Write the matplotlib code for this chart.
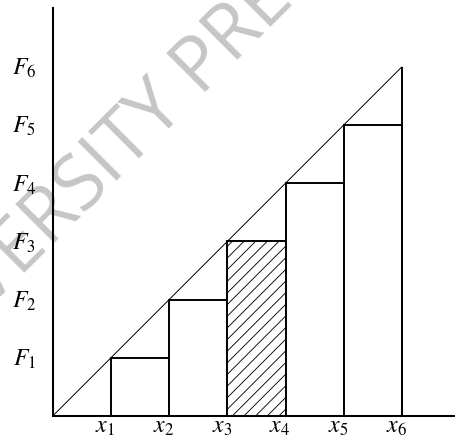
import matplotlib
matplotlib.use("Agg")
import matplotlib.pyplot as plt
import numpy as np

# ---- data ----
x_positions = [1, 2, 3, 4, 5, 6]
F_levels = [1, 2, 3, 4, 5, 6]
x_labels = [r"$x_{1}$", r"$x_{2}$", r"$x_{3}$", r"$x_{4}$", r"$x_{5}$", r"$x_{6}$"]
F_labels = [r"$F_{1}$", r"$F_{2}$", r"$F_{3}$", r"$F_{4}$", r"$F_{5}$", r"$F_{6}$"]
hatched_index = 2  # bar from x3 to x4
watermark = "OXFORD UNIVERSITY PRESS"

plt.rcParams["mathtext.fontset"] = "stix"

DPI = 70
W, H = 455, 439
fig = plt.figure(figsize=(W / DPI, H / DPI), dpi=DPI)
fig.patch.set_facecolor("white")

# axes geometry (pixels)
ox, oy = 52.7, 416.0
unit = 58.2
top_px = 8.0
ax = fig.add_axes([ox / W, (H - oy) / H, (W - ox) / W, (oy - top_px) / H])
ax.set_xlim(0, (W - ox) / unit)
ax.set_ylim(0, (oy - top_px) / unit)
ax.patch.set_visible(False)

for s in ["top", "right"]:
    ax.spines[s].set_visible(False)
for s in ["left", "bottom"]:
    ax.spines[s].set_linewidth(2.1)
    ax.spines[s].set_color("black")
ax.set_xticks([])
ax.set_yticks([])

# ---- watermark (faint, behind everything) ----
ang = 45
wm_color = "#c6c6c6"
wm_size = 78
wm_font = "Open Sans"
d = np.array([np.cos(np.radians(ang)), -np.sin(np.radians(ang))])
renderer = fig.canvas.get_renderer()
prefix = watermark[: watermark.index("PRESS")]
tmp = fig.text(0, 0, prefix.rstrip() + " P", fontsize=wm_size, family=wm_font)
w_full = tmp.get_window_extent(renderer).width
tmp.set_text("P")
w_p = tmp.get_window_extent(renderer).width
tmp.remove()
p_anchor = np.array([201.0, 97.0])  # left-baseline of the "P" (pixels from top-left)
start = p_anchor - (w_full - w_p) * d
fig.text(start[0] / W, 1 - start[1] / H, watermark, rotation=ang,
         rotation_mode="anchor", ha="left", va="baseline", fontsize=wm_size,
         family=wm_font, color=wm_color, zorder=-5)

# ---- bars (step function under the diagonal) ----
lefts = x_positions[:-1]
widths = np.diff(x_positions)
heights = F_levels[:-1]
bars = ax.bar(lefts, heights, width=widths, align="edge", facecolor="white",
              edgecolor="black", linewidth=2.0, zorder=2)

# diagonal hatching on the highlighted bar
hb = bars[hatched_index]
bx, bw, bh = hb.get_x(), hb.get_width(), hb.get_height()
step = 0.2
for c in np.arange(0.115 - 6 * step, bh + step, step):
    xs = np.array([bx - 0.5, bx + bw + 0.5])
    ln, = ax.plot(xs, (xs - bx) + c, color="black", linewidth=0.9, zorder=2.5)
    ln.set_clip_path(hb)

# vertical at x6 up to F6 and the diagonal
ax.vlines(x_positions[-1], 0, F_levels[-1], color="black", linewidth=2.0, zorder=3)
ax.plot([0, x_positions[-1]], [0, F_levels[-1]], color="black", linewidth=1.0,
        zorder=4, solid_capstyle="butt")

# labels
for xp, lab in zip(x_positions, x_labels):
    ax.text(xp - 0.095, -0.29, lab, ha="center", va="baseline", fontsize=24.5,
            clip_on=False)
for fl, lab in zip(F_levels, F_labels):
    ax.text(-0.49, fl - 0.14, lab, ha="center", va="baseline", fontsize=24.5,
            clip_on=False)

fig.savefig("out.png", dpi=DPI, facecolor="white")
